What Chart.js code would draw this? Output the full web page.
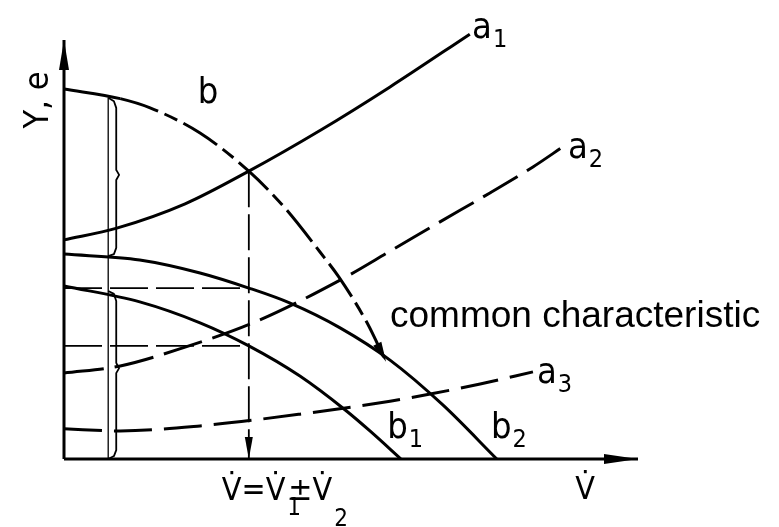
<!DOCTYPE html>
<html>
<head>
<meta charset="utf-8">
<script src="https://cdn.jsdelivr.net/npm/chart.js@4/dist/chart.umd.min.js"></script>
<style>
  html, body { margin: 0; padding: 0; background: #ffffff; }
  #wrap { width: 779px; height: 527px; position: relative; }
</style>
</head>
<body>
<div id="wrap"><canvas id="chart"></canvas></div>
<script>
// Relative units: x = volume flow V̇, y = head / energy Y, e (both 0..10 on the axes)
const flowAxis = [[0, 0], [10, 0]];
const headAxis = [[0, 0], [0, 10]];

// system characteristics a1..a3
const curveA1 = [[0, 5.23], [0.92, 5.51], [2.11, 6.09], [3.22, 6.87], [4.46, 7.84], [5.68, 8.88], [7.07, 10.14]];
const curveA2 = [[0, 2.05], [0.98, 2.22], [2.11, 2.67], [3.33, 3.27], [4.81, 4.27], [5.68, 4.96], [6.55, 5.66], [7.42, 6.35], [8.17, 6.97], [8.69, 7.45]];
const curveA3 = [[0, 0.72], [0.98, 0.67], [2.37, 0.79], [4.11, 1.07], [5.68, 1.38], [6.38, 1.55], [7.25, 1.79], [8.17, 2.08]];

// single machine characteristics b1, b2
const curveB1 = [[0, 4.13], [1.32, 3.75], [2.37, 3.25], [3.22, 2.70], [4.11, 1.98], [4.90, 1.17], [5.33, 0.67], [5.87, 0]];
const curveB2 = [[0, 4.89], [1.32, 4.75], [2.37, 4.44], [3.22, 4.08], [3.94, 3.72], [4.81, 3.13], [5.68, 2.36], [6.60, 1.29], [7.54, 0]];

// common characteristic b (solid near the axis, dash-dot beyond)
const curveB = [[0, 8.83], [0.98, 8.60], [1.50, 8.38], [2.37, 7.78], [3.22, 6.87], [3.85, 5.99], [4.46, 4.94], [4.79, 4.34], [5.28, 3.25], [5.61, 2.32]];
const bSolidUntil = 0.98;

// operating point and its projections
const operatingFlow = 3.22;
const operatingHead = 6.87;
const headB2AtPoint = 4.08;
const headB1AtPoint = 2.70;
const guideDown = [[operatingFlow, operatingHead], [operatingFlow, 0]];
const guideB2 = [[0, headB2AtPoint], [operatingFlow, headB2AtPoint]];
const guideB1 = [[0, headB1AtPoint], [operatingFlow, headB1AtPoint]];

// brace marks for the stacked heads
const braceStem = [[0.77, 8.62], [0.77, 0]];
const braceUpper = [[0.77, 8.62], [0.87, 8.54], [0.91, 8.38], [0.91, 6.90], [0.96, 6.78], [0.91, 6.66], [0.91, 5.04], [0.87, 4.89], [0.77, 4.84]];
const braceLower = [[0.77, 4.01], [0.87, 3.94], [0.91, 3.77], [0.91, 2.29], [0.96, 2.17], [0.91, 2.05], [0.91, 0.21], [0.87, 0.07], [0.77, 0]];

// text
const curveLabels = [
  { text: 'a', sub: '1', x: 7.11, y: 10.05 },
  { text: 'a', sub: '2', x: 8.78, y: 7.18 },
  { text: 'a', sub: '3', x: 8.24, y: 1.81 },
  { text: 'b', sub: '1', x: 5.63, y: 0.50 },
  { text: 'b', sub: '2', x: 7.44, y: 0.50 },
  { text: 'b', sub: '',  x: 2.33, y: 8.50 }
];
const noteText = 'common characteristic';
const yAxisTitle = 'Y, e';
const xAxisTitle = 'V\u0307';
const flowSum = ['V\u0307=V\u0307', '1', '\u00B1V\u0307', '2'];

const tech = '"Liberation Sans Narrow", "DejaVu Sans Condensed", "Liberation Sans", sans-serif';
const ink = '#000000';

const pts = arr => arr.map(([x, y]) => ({ x, y }));
function line(data, width, dash, opts = {}) {
  return Object.assign({
    data: pts(data),
    borderColor: ink,
    borderWidth: width,
    borderDash: dash || [],
    pointRadius: 0,
    showLine: true,
    fill: false,
    clip: false,
    cubicInterpolationMode: 'monotone',
    borderCapStyle: 'butt',
    borderJoinStyle: 'round'
  }, opts);
}

const datasets = [
  line(flowAxis, 3, null, { arrow: { len: 34, half: 5 }, cubicInterpolationMode: 'default', tension: 0 }),
  line(headAxis, 3, null, { arrow: { len: 30, half: 5 }, cubicInterpolationMode: 'default', tension: 0 }),
  line(braceStem, 1.3, null, { cubicInterpolationMode: 'default', tension: 0 }),
  line(braceUpper, 1.8, null, { cubicInterpolationMode: 'default', tension: 0 }),
  line(braceLower, 1.8, null, { cubicInterpolationMode: 'default', tension: 0 }),
  line(guideB2, 1.8, [38, 8], { cubicInterpolationMode: 'default', tension: 0 }),
  line(guideB1, 1.8, [38, 8], { cubicInterpolationMode: 'default', tension: 0 }),
  line(guideDown, 1.8, [36, 7], { arrow: { len: 22, half: 4 }, cubicInterpolationMode: 'default', tension: 0 }),
  line(curveA1, 3),
  line(curveA2, 3, [40, 11]),
  line(curveA3, 3, [38, 12]),
  line(curveB1, 3),
  line(curveB2, 3),
  line(curveB, 3, null, {
    arrow: { len: 20, half: 4.5 },
    segment: { borderDash: c => (c.p0.parsed.x >= bSolidUntil ? [40, 7, 14, 7] : []) }
  })
];

const decor = {
  id: 'decor',
  afterDatasetsDraw(chart) {
    const { ctx } = chart;
    const sx = chart.scales.x, sy = chart.scales.y;
    const P = (x, y) => ({ x: sx.getPixelForValue(x), y: sy.getPixelForValue(y) });

    // arrowheads at the ends of marked lines
    chart.data.datasets.forEach(ds => {
      if (!ds.arrow) return;
      const n = ds.data.length;
      const tip = P(ds.data[n - 1].x, ds.data[n - 1].y);
      const prev = P(ds.data[n - 2].x, ds.data[n - 2].y);
      let dx = tip.x - prev.x, dy = tip.y - prev.y;
      const L = Math.hypot(dx, dy); dx /= L; dy /= L;
      const bx = tip.x - dx * ds.arrow.len, by = tip.y - dy * ds.arrow.len;
      ctx.save();
      ctx.fillStyle = ink;
      ctx.beginPath();
      ctx.moveTo(tip.x, tip.y);
      ctx.lineTo(bx - dy * ds.arrow.half, by + dx * ds.arrow.half);
      ctx.lineTo(bx + dy * ds.arrow.half, by - dx * ds.arrow.half);
      ctx.closePath();
      ctx.fill();
      ctx.restore();
    });

    ctx.save();
    ctx.fillStyle = ink;
    ctx.textBaseline = 'alphabetic';

    // curve names with subscripts
    curveLabels.forEach(l => {
      const p = P(l.x, l.y);
      ctx.font = '36px ' + tech;
      ctx.textAlign = 'left';
      ctx.fillText(l.text, p.x, p.y);
      if (l.sub) {
        const w = ctx.measureText(l.text).width;
        ctx.font = '25px ' + tech;
        ctx.fillText(l.sub, p.x + w + 1, p.y + 9);
      }
    });

    // note
    const pn = P(5.68, 3.15);
    ctx.font = '37px "Liberation Sans", Arial, sans-serif';
    ctx.textAlign = 'left';
    ctx.fillText(noteText, pn.x, pn.y);

    // y axis title, rotated
    const py = P(-0.44, 8.57);
    ctx.save();
    ctx.translate(py.x, py.y);
    ctx.rotate(-Math.PI / 2);
    ctx.font = '34px ' + tech;
    ctx.textAlign = 'center';
    ctx.textBaseline = 'middle';
    ctx.fillText(yAxisTitle, 0, 0);
    ctx.restore();

    // x axis title
    const px = P(9.08, -0.95);
    ctx.font = '32px ' + tech;
    ctx.textAlign = 'center';
    ctx.fillText(xAxisTitle, px.x, px.y);

    // flow sum under the operating point
    const pf = P(2.75, -0.98);
    ctx.textAlign = 'left';
    ctx.font = '32px ' + tech;
    ctx.fillText(flowSum[0], pf.x, pf.y);
    let cx = pf.x + ctx.measureText(flowSum[0]).width;
    ctx.font = '24px ' + tech;
    ctx.fillText(flowSum[1], cx + 2, pf.y + 15);
    ctx.font = '32px ' + tech;
    ctx.fillText(flowSum[2], cx + 3, pf.y);
    cx = cx + 3 + ctx.measureText(flowSum[2]).width;
    ctx.font = '24px ' + tech;
    ctx.fillText(flowSum[3], cx + 2, pf.y + 26);
    ctx.restore();
  }
};

new Chart(document.getElementById('chart'), {
  type: 'scatter',
  data: { datasets },
  options: {
    responsive: true,
    maintainAspectRatio: false,
    animation: false,
    devicePixelRatio: 1,
    layout: { padding: { left: 64, right: 141, top: 40, bottom: 68 } },
    plugins: { legend: { display: false }, tooltip: { enabled: false } },
    scales: {
      x: { type: 'linear', min: 0, max: 10, display: false },
      y: { type: 'linear', min: 0, max: 10, display: false }
    }
  },
  plugins: [decor]
});
</script>
</body>
</html>
